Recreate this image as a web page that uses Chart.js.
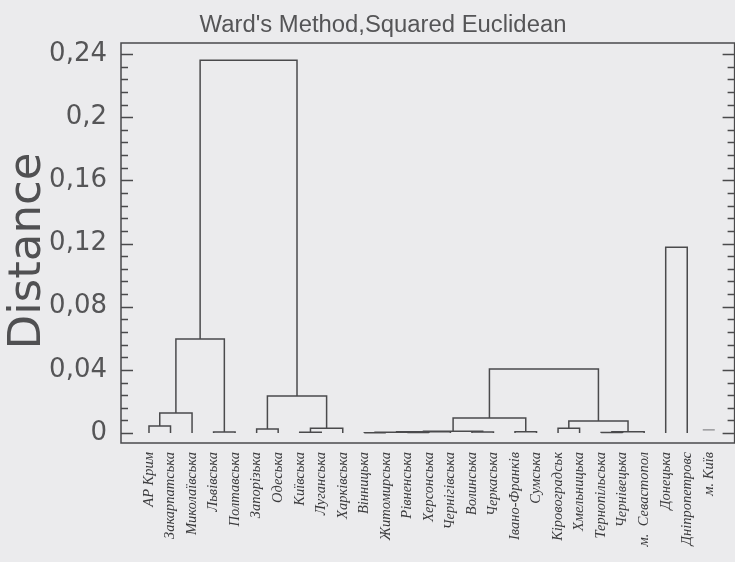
<!DOCTYPE html>
<html><head><meta charset="utf-8">
<script src="https://cdn.jsdelivr.net/npm/chart.js@4.4.0/dist/chart.umd.min.js"></script>
<style>
html,body{margin:0;padding:0;background:#ebebed;overflow:hidden;width:735px;height:562px}
#wrap{position:absolute;left:0;top:0;width:742px;height:562px}
</style></head>
<body><div id="wrap"><canvas id="c" width="742" height="562"></canvas></div>
<script>
// ---- data ----
const leaves = ['АР Крим','Закарпатська','Миколаївська','Львівська','Полтавська','Запорізька','Одеська','Київська','Луганська','Харківська','Вінницька','Житомирська','Рівненська','Херсонська','Чернігівська','Волинська','Черкаська','Івано-Франків','Сумська','Кіровоградськ','Хмельницька','Тернопільська','Чернівецька','м.  Севастопол','Донецька','Дніпропетровс','м. Київ'];
// merges: child index < 27 is a leaf, >= 27 is merge number (index-27)
const mergeLeft   = [0, 27, 3, 28, 5, 7, 32, 31, 30, 10, 12, 36, 38, 15, 39, 17, 41, 19, 21, 45, 44, 43, 24];
const mergeRight  = [1, 2, 4, 29, 6, 8, 9, 33, 34, 11, 13, 37, 14, 16, 40, 18, 42, 20, 22, 23, 46, 47, 25];
const mergeHeight = [0.0044, 0.0127, 0.0006, 0.0595, 0.0025, 0.0005, 0.003, 0.0234, 0.236, 0.0002, 0.0003, 0.0005, 0.0008, 0.0006, 0.0012, 0.0008, 0.0095, 0.003, 0.0004, 0.0008, 0.0076, 0.0405, 0.1177];
const singleLeaves = [26];
const yTicks = [0, 0.04, 0.08, 0.12, 0.16, 0.2, 0.24];
const yTickLabels = ['0', '0,04', '0,08', '0,12', '0,16', '0,2', '0,24'];
const titleText = "Ward's Method,Squared Euclidean";
const yTitle = 'Distance';

// ---- build dendrogram links from the merge table ----
const nodeX = leaves.map((_, i) => i);
const nodeH = leaves.map(() => 0);
const lineColor = '#4a4a4c';
const datasets = [];
mergeLeft.forEach((l, k) => {
  const r = mergeRight[k], h = mergeHeight[k];
  datasets.push({
    data: [{x: nodeX[l], y: nodeH[l]}, {x: nodeX[l], y: h}, {x: nodeX[r], y: h}, {x: nodeX[r], y: nodeH[r]}],
    showLine: true, borderColor: lineColor, borderWidth: 1.5, pointRadius: 0, tension: 0, fill: false
  });
  nodeX.push((nodeX[l] + nodeX[r]) / 2);
  nodeH.push(h);
});
datasets.push({
  data: singleLeaves.map(i => ({x: i, y: 0.002})),
  showLine: false, pointStyle: 'line', pointRadius: 6, borderColor: '#8a8a8c', borderWidth: 1.4
});

// title font size fitted to reference width
const mctx = document.createElement('canvas').getContext('2d');
const titleFamily = "'Liberation Sans Narrow', 'Liberation Sans', Arial, sans-serif";
mctx.font = '28px ' + titleFamily;
const titleSize = 28 * 367 / mctx.measureText(titleText).width;

const decor = {
  id: 'decor',
  beforeDraw(chart) {
    const ctx = chart.ctx;
    ctx.save();
    ctx.fillStyle = '#ebebed';
    ctx.fillRect(0, 0, chart.width, chart.height);
    ctx.restore();
  },
  afterDraw(chart) {
    const {ctx, chartArea: a, scales: {y}} = chart;
    ctx.save();
    ctx.strokeStyle = '#4a4a4c';
    ctx.lineWidth = 1.5;
    ctx.strokeRect(a.left, a.top, a.right - a.left, a.bottom - a.top);
    ctx.lineWidth = 1.3;
    const step = (yTicks[1] - yTicks[0]) / 5;
    for (let j = 0; j <= (yTicks.length - 1) * 5; j++) {
      const py = Math.round(y.getPixelForValue(j * step)) + 0.5;
      const len = j % 5 === 0 ? 12 : 7;
      ctx.beginPath();
      ctx.moveTo(a.left, py); ctx.lineTo(a.left + len, py);
      ctx.moveTo(a.right, py); ctx.lineTo(a.right - len, py);
      ctx.stroke();
    }
    ctx.fillStyle = '#555557';
    ctx.font = titleSize.toFixed(2) + 'px ' + titleFamily;
    ctx.textAlign = 'center';
    ctx.textBaseline = 'alphabetic';
    ctx.fillText(titleText, 383, 32);
    // y axis title
    ctx.save();
    ctx.translate(40, 251);
    ctx.rotate(-Math.PI / 2);
    ctx.fillStyle = '#505052';
    ctx.font = "45px 'DejaVu Sans', sans-serif";
    ctx.textAlign = 'center';
    ctx.textBaseline = 'alphabetic';
    ctx.fillText(yTitle, 0, 0);
    ctx.restore();
    ctx.restore();
  }
};

new Chart(document.getElementById('c'), {
  type: 'scatter',
  data: {datasets},
  options: {
    responsive: false,
    animation: false,
    layout: {padding: {top: 43, right: 6, left: 0, bottom: 0}},
    plugins: {legend: {display: false}, tooltip: {enabled: false}, title: {display: false}},
    scales: {
      x: {
        type: 'linear', min: -1.3, max: 27.2,
        grid: {display: false, drawTicks: false},
        border: {display: false},
        afterBuildTicks: s => { s.ticks = leaves.map((_, i) => ({value: i})); },
        afterFit: s => { s.height = 119; },
        ticks: {
          autoSkip: false, minRotation: 90, maxRotation: 90, padding: 9,
          color: '#3a3a3c',
          font: {family: "'Liberation Serif', 'DejaVu Serif', serif", style: 'italic', size: 14.5},
          callback: v => leaves[v]
        }
      },
      y: {
        min: -0.0063, max: 0.247,
        grid: {display: false, drawTicks: false},
        border: {display: false},
        afterBuildTicks: s => { s.ticks = yTicks.map(v => ({value: v})); },
        afterFit: s => { s.width = 121; },
        ticks: {
          padding: 14, color: '#555557',
          font: {family: "'DejaVu Sans', sans-serif", size: 26},
          callback: v => yTickLabels[yTicks.findIndex(t => Math.abs(t - v) < 1e-9)]
        }
      }
    }
  },
  plugins: [decor]
});
</script></body></html>
